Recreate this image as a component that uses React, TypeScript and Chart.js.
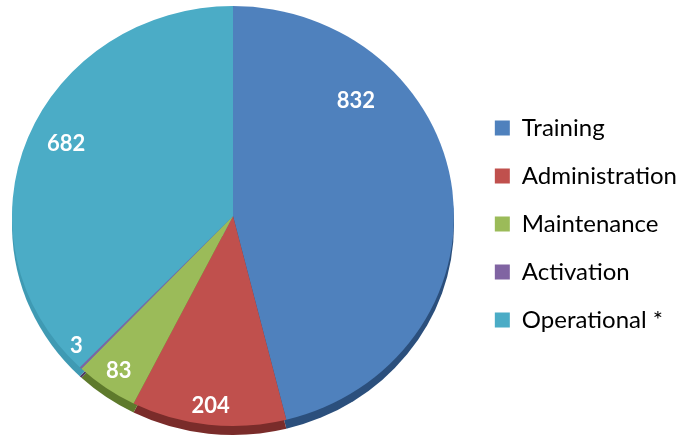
import React, { useEffect, useRef } from "react";
import { Chart, registerables } from "chart.js";

Chart.register(...registerables);

// ---- data ----
const categories = ["Training", "Administration", "Maintenance", "Activation", "Operational *"];
const values = [832, 204, 83, 3, 682];

// ---- styles ----
const sliceColors = ["#4F81BD", "#C0504D", "#9BBB59", "#8064A2", "#4BACC6"];
const edgeColors = ["#2B4F7C", "#7A2C2A", "#5E7A2C", "#4E3B66", "#3F9AB3"];
// label placement: degrees shifted from slice middle, fraction of radius
const labelAngleShift = [-37.6, 0, 0, 5.3, 2.5];
const labelRadius = [0.78, 0.91, 0.9, 0.94, 0.83];

const TARGET = { cx: 233, cy: 216, rx: 221, ry: 210, depth: 9 };

function getMapping(chart: any) {
  const meta = chart.getDatasetMeta(0);
  const a = meta.data[0];
  const p = a.getProps(["x", "y", "outerRadius"], true);
  return { x0: p.x, y0: p.y, r0: p.outerRadius, sx: TARGET.rx / p.outerRadius, sy: TARGET.ry / p.outerRadius };
}

const pie3dPlugin = {
  id: "pie3d",
  beforeDatasetsDraw(chart: any) {
    const ctx = chart.ctx;
    const m = getMapping(chart);
    const meta = chart.getDatasetMeta(0);
    // darker side edge
    meta.data.forEach((arc: any, i: number) => {
      const p = arc.getProps(["startAngle", "endAngle"], true);
      ctx.save();
      ctx.beginPath();
      ctx.moveTo(TARGET.cx, TARGET.cy + TARGET.depth);
      ctx.ellipse(TARGET.cx, TARGET.cy + TARGET.depth, TARGET.rx, TARGET.ry, 0, p.startAngle, p.endAngle);
      ctx.closePath();
      ctx.fillStyle = edgeColors[i];
      ctx.fill();
      ctx.restore();
    });
    ctx.save();
    ctx.translate(TARGET.cx, TARGET.cy);
    ctx.scale(m.sx, m.sy);
    ctx.translate(-m.x0, -m.y0);
  },
  afterDatasetsDraw(chart: any) {
    const ctx = chart.ctx;
    ctx.restore();
    const meta = chart.getDatasetMeta(0);
    ctx.save();
    ctx.font = "bold 22px Lato";
    ctx.fillStyle = "#ffffff";
    ctx.textAlign = "center";
    ctx.textBaseline = "middle";
    meta.data.forEach((arc: any, i: number) => {
      const p = arc.getProps(["startAngle", "endAngle"], true);
      const ang = (p.startAngle + p.endAngle) / 2 + (labelAngleShift[i] * Math.PI) / 180;
      const x = TARGET.cx + Math.cos(ang) * TARGET.rx * labelRadius[i];
      const y = TARGET.cy + Math.sin(ang) * TARGET.ry * labelRadius[i];
      ctx.fillText(String(values[i]), x, y);
    });
    ctx.restore();
  },
};

export default function App() {
  const ref = useRef<HTMLCanvasElement | null>(null);
  useEffect(() => {
    if (!ref.current) return;
    const chart = new Chart(ref.current, {
      type: "pie",
      data: {
        labels: categories,
        datasets: [
          {
            data: values,
            backgroundColor: sliceColors,
            borderWidth: 0,
            clip: false as any,
          },
        ],
      },
      options: {
        responsive: false,
        animation: false,
        devicePixelRatio: 1,
        layout: { padding: { top: 6, right: 0, left: 0, bottom: 0 } },
        plugins: {
          tooltip: { enabled: false },
          legend: {
            position: "right",
            align: "center",
            labels: {
              boxWidth: 15,
              boxHeight: 15,
              padding: 24,
              color: "#000000",
              font: { family: "Lato", size: 24 },
            },
          },
        },
      },
      plugins: [pie3dPlugin],
    });
    return () => chart.destroy();
  }, []);
  return (
    <div style={{ position: "fixed", left: 0, top: 0, width: 687, height: 442, background: "#ffffff" }}>
      <canvas ref={ref} width={687} height={442} style={{ width: 687, height: 442, display: "block" }} />
    </div>
  );
}
